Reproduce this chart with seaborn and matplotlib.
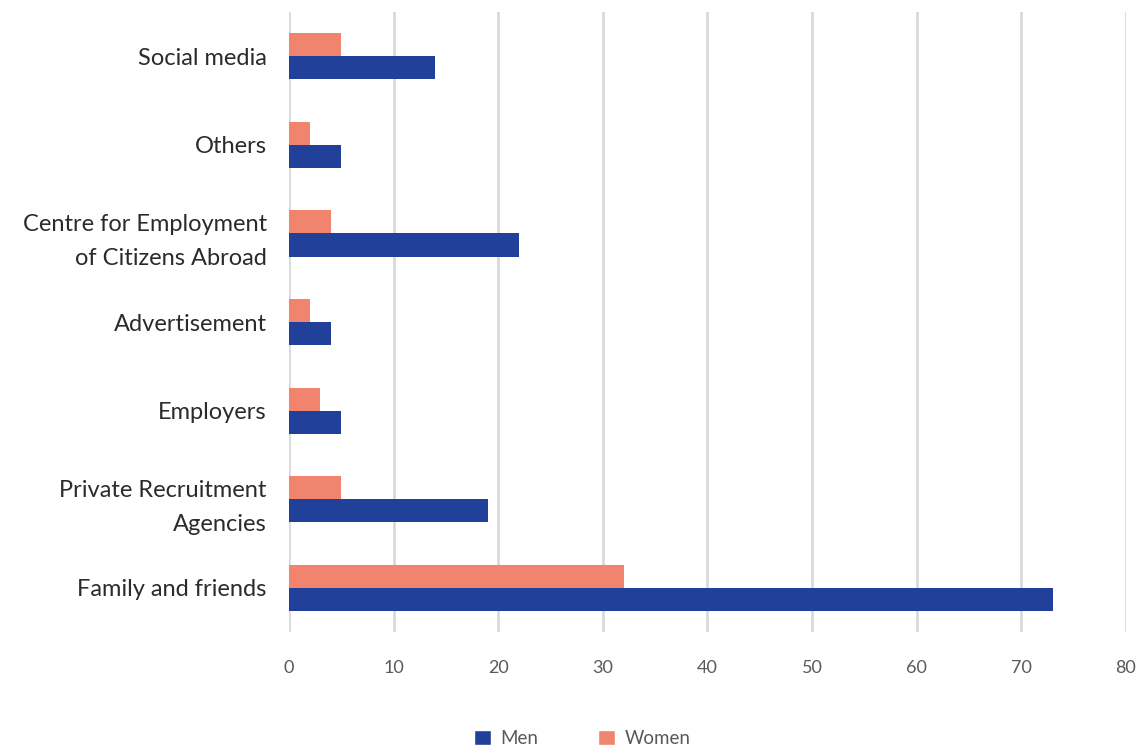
import matplotlib
matplotlib.use("Agg")
import matplotlib.pyplot as plt
import seaborn as sns
import pandas as pd
from matplotlib.patches import Patch

categories = ["Social media", "Others", "Centre for Employment\nof Citizens Abroad",
              "Advertisement", "Employers", "Private Recruitment\nAgencies", "Family and friends"]
men = [14, 5, 22, 4, 5, 19, 73]
women = [5, 2, 4, 2, 3, 5, 32]
xticks = [0, 10, 20, 30, 40, 50, 60, 70, 80]

MEN_C = "#21409A"
WOMEN_C = "#F0846E"

df = pd.DataFrame({
    "category": categories * 2,
    "value": men + women,
    "sex": ["Men"] * len(men) + ["Women"] * len(women),
})

sns.set_style("white")
plt.rcParams["font.family"] = ["Lato", "DejaVu Sans"]

fig = plt.figure(figsize=(11.46, 7.49), dpi=100)
ax = fig.add_axes([0.2522, 0.156, 0.7303, 0.828])

sns.barplot(data=df, y="category", x="value", hue="sex", hue_order=["Women", "Men"],
            order=categories, palette={"Men": MEN_C, "Women": WOMEN_C},
            width=0.52, orient="h", ax=ax, legend=False, saturation=1, linewidth=0)

ax.set_xlim(0, 80)
ax.set_ylim(6.5, -0.5)
ax.set_xticks(xticks)
ax.set_xticklabels([str(t) for t in xticks], fontsize=13, color="#595959")
ax.tick_params(axis="x", length=0, pad=20)
ax.tick_params(axis="y", length=0, pad=16)
for lbl in ax.get_yticklabels():
    lbl.set_fontsize(17)
    lbl.set_color("#2b2b2b")
    lbl.set_horizontalalignment("right")
    lbl.set_multialignment("right")
    lbl.set_linespacing(1.75)
ax.set_xlabel("")
ax.set_ylabel("")
for s in ax.spines.values():
    s.set_visible(False)
ax.xaxis.grid(True, color="#D9D9D9", linewidth=2)
ax.set_axisbelow(True)

handles = [Patch(facecolor=MEN_C, label="Men"), Patch(facecolor=WOMEN_C, label="Women")]
leg = fig.legend(handles=handles, loc="center", bbox_to_anchor=(0.508, 0.014), ncol=2,
                 frameon=False, fontsize=13.5, handlelength=0.9,
                 handleheight=0.9, columnspacing=3.2, handletextpad=0.5, labelcolor="#595959")

fig.savefig("out.png", dpi=100)
